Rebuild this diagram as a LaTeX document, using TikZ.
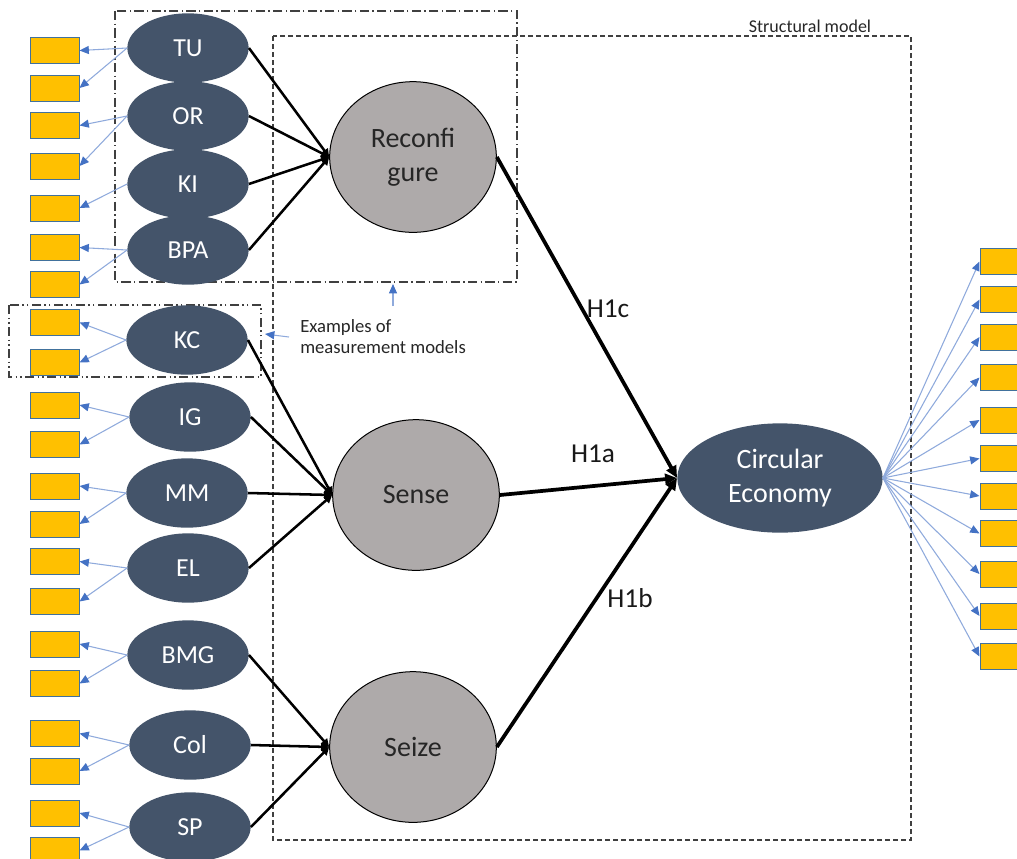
\documentclass[tikz,border=0pt]{standalone}
\usepackage{fontspec}
\setmainfont{Carlito}
\usetikzlibrary{shapes.geometric,arrows.meta}
\definecolor{dk}{HTML}{44546A}
\definecolor{gr}{HTML}{AEAAAA}
\definecolor{yl}{HTML}{FFC000}
\definecolor{bd}{HTML}{41719C}
\definecolor{bl}{HTML}{8FAADC}
\definecolor{bt}{HTML}{4472C4}
\definecolor{frm}{HTML}{404040}
\begin{document}
\begin{tikzpicture}[x=0.75pt,y=-0.75pt,
  lat/.style={ellipse, fill=dk, text=white, minimum width=91pt, minimum height=52pt, inner sep=0pt, font=\fontsize{19.5}{22}\selectfont},
  dim/.style={ellipse, fill=gr, draw=black, line width=0.75pt, minimum width=125pt, minimum height=113pt, inner sep=0pt, align=center, text=black!85, font=\fontsize{21}{25.5}\selectfont},
  cestyle/.style={ellipse, fill=dk, text=white, minimum width=154pt, minimum height=82pt, inner sep=0pt, align=center, font=\fontsize{21}{25}\selectfont},
  ind/.style={rectangle, fill=yl, draw=bd, line width=0.75pt, minimum width=36.75pt, minimum height=19.5pt, inner sep=0pt},
  load/.style={draw=bl, line width=0.8pt, -{Triangle[length=7pt,width=6pt,color=bt]}},
  pathline/.style={draw=black, line width=1.9pt, -{Triangle[length=6pt,width=6pt]}},
  hyp/.style={draw=black, line width=2.8pt, -{Triangle[length=9pt,width=8pt]}},
  lbl/.style={font=\fontsize{20.5}{24}\selectfont, text=black!90},
  mmbox/.style={draw=frm, line width=0.9pt, dash pattern=on 7pt off 2.5pt on 1pt off 2.5pt},
  kcbox/.style={draw=frm, line width=0.9pt, dash pattern=on 7pt off 2.5pt on 1pt off 2.5pt on 1pt off 2.5pt},
  smbox/.style={draw=frm, line width=0.9pt, dash pattern=on 3.5pt off 2.5pt}
]
\clip (0,0) rectangle (1017,858);

% frames
\draw[mmbox] (115,11) rectangle (517,282);
\draw[kcbox] (9,305) rectangle (261,377);
\draw[smbox] (273,36) rectangle (911,840);
\node[font=\fontsize{13.5}{16}\selectfont, text=black!85] (smlabel) at (810,26.5) {Structural model};

% indicator boxes
\foreach \y [count=\i] in {50.5,88,125.5,166,208,247.5,284.5,322.5,362.5,405,444.5,486,524,561.5,601.5,644,683.5,733.5,771,813,850.5}
  \node[ind] (l\i) at (54.5,\y) {};
\foreach \y [count=\i] in {261.5,299.5,337,377.5,420,458.5,496,533.5,574,616,656.5}
  \node[ind] (r\i) at (1004.5,\y) {};

% latent constructs
\node[lat] (TU) at (188,48) {TU};
\node[lat] (OR) at (188,116) {OR};
\node[lat] (KI) at (188,184) {KI};
\node[lat] (BPA) at (188,250) {BPA};
\node[lat] (KC) at (187,340) {KC};
\node[lat] (IG) at (190,417) {IG};
\node[lat] (MM) at (187,493) {MM};
\node[lat] (EL) at (188,568) {EL};
\node[lat] (BMG) at (188,655) {BMG};
\node[lat] (Col) at (190,745) {Col};
\node[lat] (SP) at (190,827) {SP};

\node[dim] (Rec) at (413,157) {Reconfi\\gure};
\node[dim] (Sen) at (416,495) {Sense};
\node[dim] (Sei) at (413,747) {Seize};
\node[cestyle] (CE) at (780,478) {Circular\\Economy};

% measurement loadings
\foreach \a/\b in {TU/1,TU/2,OR/3,OR/4,KI/5,BPA/6,BPA/7,KC/8,KC/9,IG/10,IG/11,MM/12,MM/13,EL/14,EL/15,BMG/16,BMG/17,Col/18,Col/19,SP/20,SP/21}
  \draw[load] (\a.west) -- (l\b.east);
\foreach \i in {1,...,11}
  \draw[load] (CE.east) -- (r\i.west);

% paths into dimensions
\foreach \a in {TU,OR,KI,BPA}
  \draw[pathline] (\a.east) -- (Rec.west);
\foreach \a in {KC,IG,MM,EL}
  \draw[pathline] (\a.east) -- (Sen.west);
\foreach \a in {BMG,Col,SP}
  \draw[pathline] (\a.east) -- (Sei.west);

% hypotheses
\draw[hyp] (Rec.east) -- (CE.west);
\draw[hyp] (Sen.east) -- (CE.west);
\draw[hyp] (Sei.east) -- (CE.west);
\node[lbl] (h1c) at (608,309) {H1c};
\node[lbl] (h1a) at (593,454) {H1a};
\node[lbl] (h1b) at (630,598) {H1b};

% examples note
\node[anchor=north west, align=left, inner sep=0pt, font=\fontsize{14}{15.8}\selectfont, text=black!85] (ex) at (300,319) {Examples of\\measurement models};
\coordinate (upS) at (393,306);
\coordinate (upE) at (393,284);
\coordinate (ltS) at (289,337);
\coordinate (ltE) at (265,334);
\draw[load] (upS) -- (upE);
\draw[load] (ltS) -- (ltE);
\end{tikzpicture}
\end{document}
